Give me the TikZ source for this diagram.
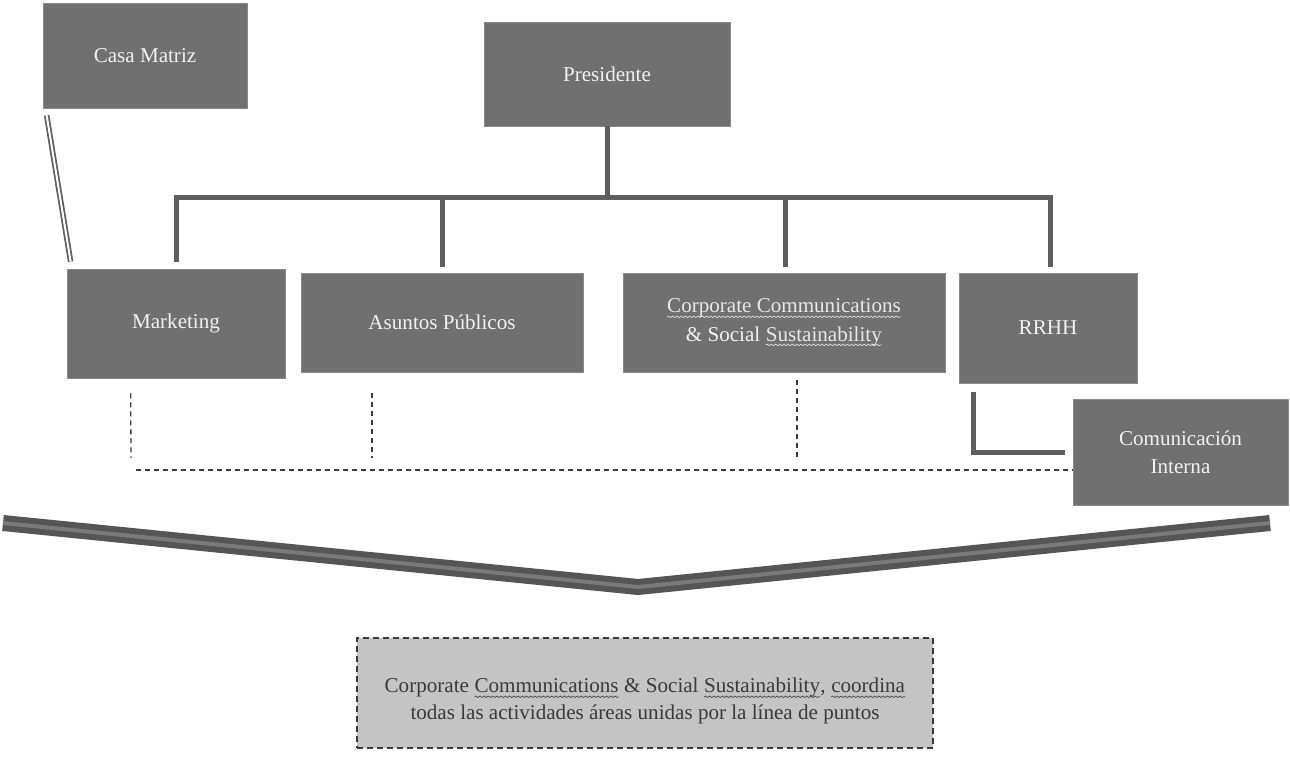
\documentclass[tikz,border=0pt]{standalone}
\usepackage{fontspec}
\setmainfont{Liberation Serif}
\usetikzlibrary{decorations.pathmorphing}
\definecolor{boxgray}{HTML}{707070}
\definecolor{boxedge}{HTML}{8A8A8A}
\definecolor{linegray}{HTML}{5E5E5E}
\definecolor{notegray}{HTML}{C4C4C4}
\definecolor{notetext}{HTML}{3A3A3A}
\definecolor{banddark}{HTML}{555555}
\definecolor{bandlight}{HTML}{7A7A7A}
\definecolor{wavelight}{HTML}{E8E8E8}
\newcommand{\squig}[2]{\tikz[baseline=(sq.base), x=1cm, y=1cm]{\node[inner sep=0pt, outer sep=0pt,
    minimum width=0pt, minimum height=0pt, draw=none, fill=none, text=#1, anchor=base] (sq) at (0,0) {#2};
  \draw[draw=#1, solid, line width=0.35pt, decorate, decoration={snake, amplitude=0.45pt, segment length=2.4pt}]
    ([yshift=-2.2pt]sq.base west) -- ([yshift=-2.2pt]sq.base east);}}
\begin{document}
\begin{tikzpicture}[x=0.02cm,y=-0.02cm,
  orgbox/.style={fill=boxgray, draw=boxedge, line width=0.4pt, text=white!95!black,
    font=\fontsize{12}{16}\selectfont, align=center, inner sep=0pt},
  bus/.style={draw=linegray, line width=0.1cm},
  dotline/.style={draw=notetext, line width=0.026cm, dash pattern=on 0.1cm off 0.08cm},
  dblline/.style={draw=linegray, double=white, double distance=0.04cm, line width=0.035cm},
  notebox/.style={fill=notegray, draw=notetext, line width=0.03cm, dash pattern=on 0.12cm off 0.08cm,
    inner sep=0pt},
  notelabel/.style={text=notetext, font=\fontsize{12}{15}\selectfont, align=center, inner sep=0pt}]
\useasboundingbox (0,0) rectangle (1290,757);

% nodes
\node[orgbox, minimum width=0.02cm*204, minimum height=0.02cm*105] (casa) at (145,55.5) {Casa Matriz};
\node[orgbox, minimum width=0.02cm*246, minimum height=0.02cm*104] (pres) at (607,74) {Presidente};
\node[orgbox, minimum width=0.02cm*218, minimum height=0.02cm*109] (mkt) at (176,323.5) {Marketing};
\node[orgbox, minimum width=0.02cm*282, minimum height=0.02cm*99] (asu) at (442,322.5) {Asuntos Públicos};
\node[orgbox, minimum width=0.02cm*322, minimum height=0.02cm*99] (corp) at (784,322.5)
  {\squig{wavelight}{Corporate Communications}\\ \& Social \squig{wavelight}{Sustainability}};
\node[orgbox, minimum width=0.02cm*178, minimum height=0.02cm*110] (rrhh) at (1048,328) {RRHH};
\node[orgbox, minimum width=0.02cm*215, minimum height=0.02cm*106] (com) at (1180.5,452) {Comunicación\\ Interna};
\node[notebox, minimum width=0.02cm*576, minimum height=0.02cm*110] (note) at (645,693) {};
\node[notelabel] (notetxt) at ([shift={(0,8)}]note.center)
  {Corporate \squig{notetext}{Communications} \& Social \squig{notetext}{Sustainability}, \squig{notetext}{coordina}\\
   todas las actividades áreas unidas por la línea de puntos};

% hierarchy bus
\coordinate (hub) at (607,197);
\draw[bus] (pres.south) -- (hub);
\draw[bus, shorten <=0.13cm, shorten >=0.12cm] (mkt.north) -- (mkt.north |- hub) -- ([shift={(2,0)}]rrhh.north |- hub) -- ([shift={(2,0)}]rrhh.north);
\draw[bus, shorten >=0.12cm] (asu.north |- hub) -- (asu.north);
\draw[bus, shorten >=0.12cm] ([shift={(1,0)}]corp.north |- hub) -- ([shift={(1,0)}]corp.north);

% Casa Matriz double link
\draw[dblline] ([shift={(4,7)}]casa.south west) -- ([shift={(4,-7)}]mkt.north west);

% RRHH to Comunicacion Interna
\draw[bus] ([shift={(15,9)}]rrhh.south west) |- ([shift={(-8,0)}]com.west);

% dotted coordination lines
\coordinate (dl) at (131,470);
\draw[dotline] ([shift={(64,15)}]mkt.south west) -- ([shift={(0,-12)}]dl);
\draw[dotline] ([shift={(5,0)}]dl) -- (com.west |- dl);
\draw[dotline, shorten >=0.24cm] ([shift={(-70,21)}]asu.south) -- ([shift={(-70,0)}]asu.south |- dl);
\draw[dotline, shorten >=0.2cm] ([shift={(13,8)}]corp.south) -- ([shift={(13,0)}]corp.south |- dl);

% big V band
\coordinate (vl) at (3,523);
\coordinate (vb) at (638,587);
\coordinate (vr) at (1270,523);
\draw[draw=banddark, line width=0.32cm] (vl) -- (vb) -- (vr);
\draw[draw=bandlight, line width=0.08cm] (vl) -- (vb) -- (vr);
\end{tikzpicture}
\end{document}
